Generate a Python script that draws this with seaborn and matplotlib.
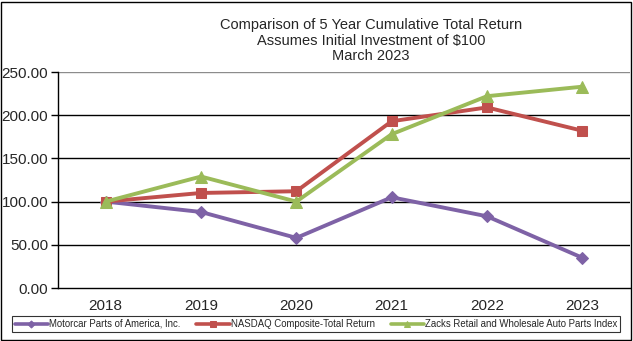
import matplotlib
matplotlib.use("Agg")
import matplotlib.pyplot as plt
import seaborn as sns
import pandas as pd
from matplotlib import font_manager

years = ["2018", "2019", "2020", "2021", "2022", "2023"]
mpa = [100, 88, 58, 105, 83, 35]
nasdaq = [100, 110, 112, 193, 209, 182]
zacks = [100, 129, 100, 178, 222, 233]
series_names = ["Motorcar Parts of America, Inc.", "NASDAQ Composite-Total Return",
                "Zacks Retail and Wholesale Auto Parts Index"]
title_lines = ["Comparison of 5 Year Cumulative Total Return",
               "Assumes Initial Investment of $100", "March 2023"]

sns.set_theme(style="white")
avail = {f.name for f in font_manager.fontManager.ttflist}
fam = "Liberation Sans Narrow" if "Liberation Sans Narrow" in avail else "Liberation Sans"
plt.rcParams['font.family'] = [fam, 'DejaVu Sans']

df = pd.DataFrame({
    "year": years * 3,
    "value": mpa + nasdaq + zacks,
    "series": [series_names[0]] * 6 + [series_names[1]] * 6 + [series_names[2]] * 6,
})

colors = ["#7E62A6", "#C0504D", "#9BBB59"]
markers = ["D", "s", "^"]
sizes = [6.5, 7.5, 8.5]

fig = plt.figure(figsize=(6.33, 3.41), dpi=100)
ax = fig.add_axes([58/633, 1-288/341, (630-58)/633, (288-72)/341])

for name, c, m, s in zip(series_names, colors, markers, sizes):
    sub = df[df["series"] == name]
    sns.lineplot(data=sub, x="year", y="value", ax=ax, color=c, marker=m,
                 markersize=s, markeredgecolor=c, linewidth=2.8, label=name,
                 sort=False, zorder=3)

ax.set_xlim(-0.5, 5.5)
ax.set_ylim(0, 250)
ax.set_yticks([0, 50, 100, 150, 200, 250])
ax.set_yticklabels([f"{v:.2f}" for v in [0, 50, 100, 150, 200, 250]], fontsize=11)
ax.set_xticks(range(6))
ax.set_xticklabels(years, fontsize=11)
ax.set_xlabel("")
ax.set_ylabel("")
for v in [50, 100, 150, 200]:
    ax.axhline(v, color="black", linewidth=1.0, zorder=1)
ax.axhline(250, color="#8c8c8c", linewidth=1.0, zorder=1)

for sp in ["top", "right"]:
    ax.spines[sp].set_visible(False)
ax.spines["left"].set_color("black")
ax.spines["bottom"].set_color("black")
ax.spines["left"].set_linewidth(1.0)
ax.spines["bottom"].set_linewidth(1.0)
ax.tick_params(axis="y", direction="out", length=5, width=1, color="black", left=True, pad=2)
ax.tick_params(axis="x", length=0, pad=8)

if ax.legend_:
    ax.legend_.remove()
handles, labels = ax.get_legend_handles_labels()
leg = fig.legend(handles, labels, loc="center", bbox_to_anchor=(316/633, 1-324/341),
                 ncol=3, fontsize=6.9, frameon=True, fancybox=False, edgecolor="black",
                 handlelength=3.5, handletextpad=0.1, columnspacing=1.65,
                 borderpad=0.3, markerscale=0.55)
leg.get_frame().set_linewidth(0.8)
for l in leg.get_lines():
    l.set_linewidth(2.6)

fig.text(371/633, 1-25/341, title_lines[0], ha="center", va="center", fontsize=10.5)
fig.text(371/633, 1-41/341, title_lines[1], ha="center", va="center", fontsize=10.5)
fig.text(371/633, 1-56/341, title_lines[2], ha="center", va="center", fontsize=10.5)

border = plt.Rectangle((1/633, 1/341), 630/633, 338/341, transform=fig.transFigure,
                       fill=False, edgecolor="black", linewidth=1.0)
fig.patches.append(border)

fig.savefig("out.png", dpi=100)
